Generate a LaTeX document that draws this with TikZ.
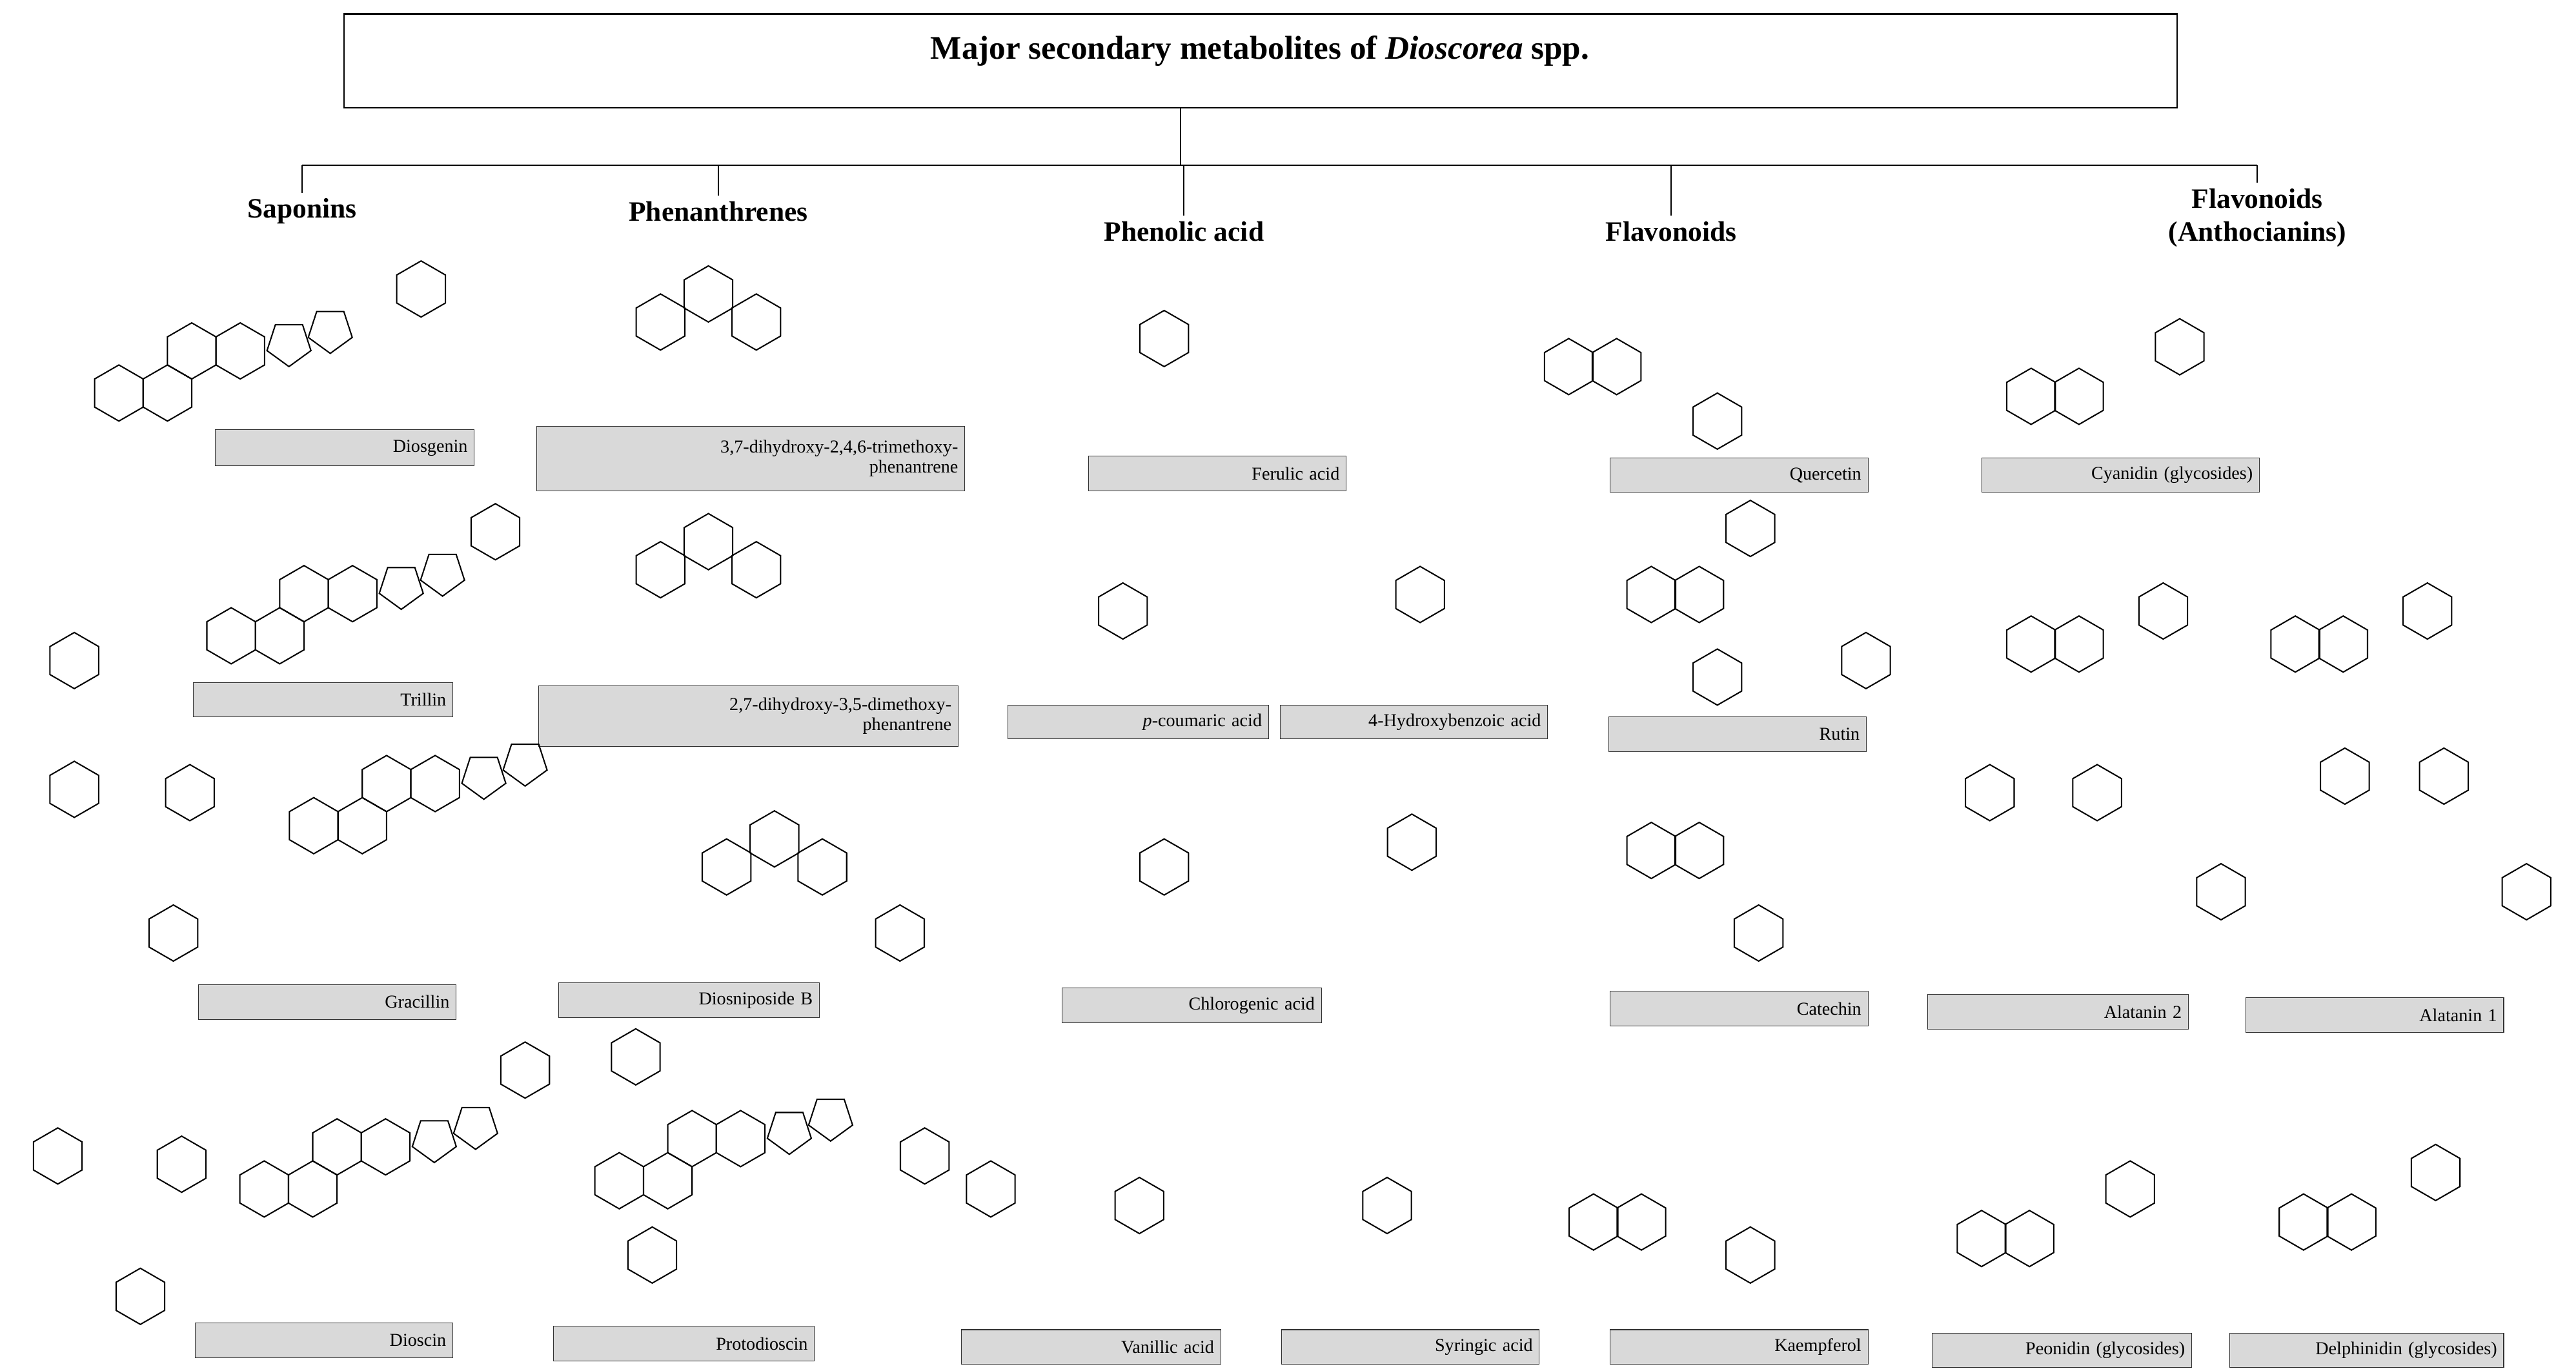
\documentclass[tikz,border=0pt]{standalone}
\usepackage{fontspec}
\setmainfont{Liberation Serif}
\begin{document}
\begin{tikzpicture}[x=1pt,y=-1pt,
  lab/.style={draw=black!80,fill=black!15,inner sep=4pt,font=\fontsize{11}{12}\selectfont,align=right,anchor=north west},
  head/.style={font=\fontsize{17}{20}\selectfont\bfseries,align=center},
  bond/.style={line width=0.8pt}]
\useasboundingbox (0,0) rectangle (1560,830);
\newcommand\hx[2]{\draw[bond] (#1,#2) +(90:17)--+(150:17)--+(210:17)--+(270:17)--+(330:17)--+(30:17)--cycle;}
\newcommand\pn[2]{\draw[bond] (#1,#2) +(90:14)--+(162:14)--+(234:14)--+(306:14)--+(18:14)--cycle;}
\newcommand\ster[2]{\hx{#1}{#2}\hx{#1+29.4}{#2}\hx{#1+44.1}{#2-25.5}\hx{#1+73.5}{#2-25.5}\pn{#1+103}{#2-30}\pn{#1+128}{#2-38}}
\newcommand\lbl[6]{\node[lab,minimum height=#5pt-#3pt,text width=#4pt-#2pt-8pt] (#1) at (#2,#3) {#6};}
% title
\node[draw,thick,minimum width=1110pt,minimum height=57pt,anchor=north west,inner sep=0pt] (title) at (208,8) {};
\node[font=\fontsize{20}{24}\selectfont\bfseries] (ttext) at (763,31) {Major secondary metabolites of \textit{Dioscorea} spp.};
\coordinate (stem) at (715,65);
\coordinate (bus) at (715,100);
\coordinate (bl) at (183,100);
\coordinate (br) at (1367,100);
\node[head] (h1) at (183,128) {Saponins};
\node[head] (h2) at (435,128) {Phenanthrenes};
\node[head] (h3) at (717,140) {Phenolic acid};
\node[head] (h4) at (1012,140) {Flavonoids};
\node[head] (h5) at (1367,132) {Flavonoids\\(Anthocianins)};
\draw[thick] (stem) -- (bus);
\draw[thick] (bl) -- (br);
\draw[thick] (bl) -- (h1.north);
\draw[thick] (435,100) -- (h2.north);
\draw[thick] (717,100) -- (h3.north);
\draw[thick] (1012,100) -- (h4.north);
\draw[thick] (br) -- (h5.north);
% labels
\lbl{l1}{130}{260}{287}{282}{Diosgenin}
\lbl{l2}{325}{258}{584}{297}{3,7-dihydroxy-2,4,6-trimethoxy-\\phenantrene}
\lbl{l3}{659}{276}{815}{297}{Ferulic acid}
\lbl{l4}{975}{277}{1131}{298}{Quercetin}
\lbl{l5}{1200}{277}{1368}{298}{Cyanidin (glycosides)}
\lbl{l6}{117}{413}{274}{434}{Trillin}
\lbl{l7}{326}{415}{580}{452}{2,7-dihydroxy-3,5-dimethoxy-\\phenantrene}
\lbl{l8}{610}{427}{768}{447}{\textit{p}-coumaric acid}
\lbl{l9}{775}{427}{937}{447}{4-Hydroxybenzoic acid}
\lbl{l10}{974}{434}{1130}{455}{Rutin}
\lbl{l11}{120}{596}{276}{617}{Gracillin}
\lbl{l12}{338}{595}{496}{616}{Diosniposide B}
\lbl{l13}{643}{598}{800}{619}{Chlorogenic acid}
\lbl{l14}{975}{600}{1131}{621}{Catechin}
\lbl{l15}{1167}{602}{1325}{623}{Alatanin 2}
\lbl{l16}{1360}{604}{1516}{625}{Alatanin 1}
\lbl{l17}{118}{801}{274}{822}{Dioscin}
\lbl{l18}{335}{803}{493}{824}{Protodioscin}
\lbl{l19}{582}{805}{739}{826}{Vanillic acid}
\lbl{l20}{776}{805}{932}{826}{Syringic acid}
\lbl{l21}{975}{805}{1131}{826}{Kaempferol}
\lbl{l22}{1170}{807}{1327}{828}{Peonidin (glycosides)}
\lbl{l23}{1350}{807}{1516}{828}{Delphinidin (glycosides)}
% structures (simplified skeletons)
\ster{72}{238}\hx{255}{175}
\hx{45}{400}\ster{140}{385}\hx{300}{322}
\hx{45}{478}\hx{115}{480}\hx{105}{565}\ster{190}{500}
\hx{35}{700}\hx{110}{705}\hx{85}{785}\ster{160}{720}\hx{318}{648}
\hx{385}{640}\hx{395}{760}\ster{375}{715}\hx{560}{700}\hx{600}{720}
\hx{400}{195}\hx{429}{178}\hx{458}{195}
\hx{400}{345}\hx{429}{328}\hx{458}{345}
\hx{440}{525}\hx{469}{508}\hx{498}{525}\hx{545}{565}
\hx{705}{205}
\hx{680}{370}
\hx{860}{360}
\hx{705}{525}\hx{855}{510}
\hx{690}{730}
\hx{840}{730}
\hx{950}{222}\hx{979}{222}\hx{1040}{255}
\hx{1000}{360}\hx{1029}{360}\hx{1060}{320}\hx{1040}{410}\hx{1130}{400}
\hx{1000}{515}\hx{1029}{515}\hx{1065}{565}
\hx{965}{740}\hx{994}{740}\hx{1060}{760}
\hx{1230}{240}\hx{1259}{240}\hx{1320}{210}
\hx{1230}{390}\hx{1259}{390}\hx{1310}{370}\hx{1205}{480}\hx{1270}{480}\hx{1345}{540}
\hx{1390}{390}\hx{1419}{390}\hx{1470}{370}\hx{1420}{470}\hx{1480}{470}\hx{1530}{540}
\hx{1200}{750}\hx{1229}{750}\hx{1290}{720}
\hx{1395}{740}\hx{1424}{740}\hx{1475}{710}
\end{tikzpicture}
\end{document}
